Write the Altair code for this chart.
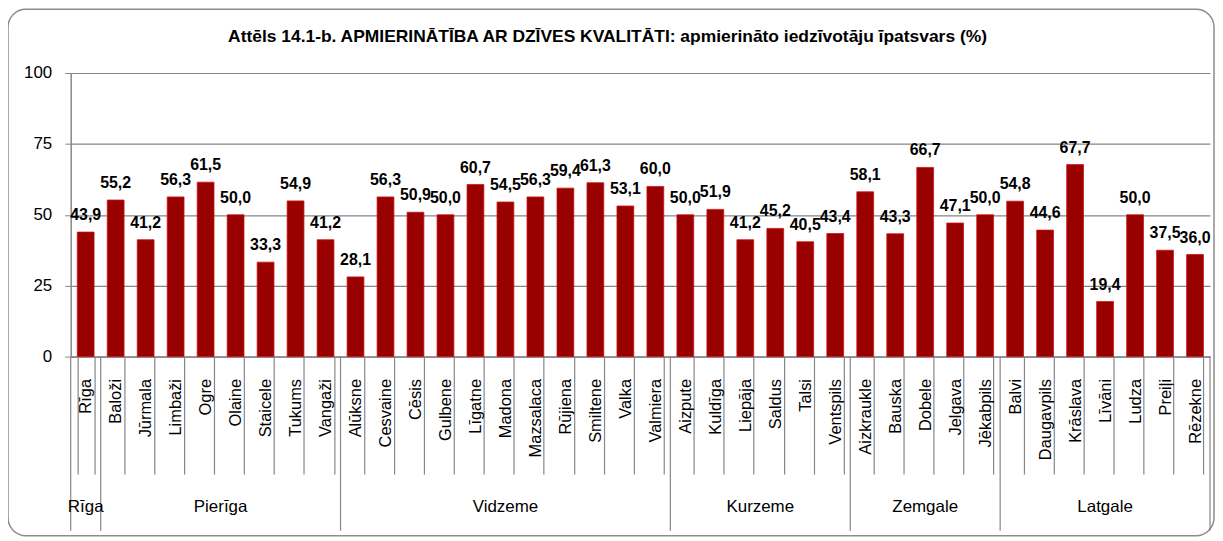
import altair as alt
import pandas as pd

title_text = "Attēls 14.1-b. APMIERINĀTĪBA AR DZĪVES KVALITĀTI: apmierināto iedzīvotāju īpatsvars (%)"

regions = ["Rīga", "Pierīga", "Vidzeme", "Kurzeme", "Zemgale", "Latgale"]
region_sizes = [1, 8, 11, 6, 5, 7]

municipalities = [
    "Rīga",
    "Baloži", "Jūrmala", "Limbaži", "Ogre", "Olaine", "Staicele", "Tukums", "Vangaži",
    "Alūksne", "Cesvaine", "Cēsis", "Gulbene", "Līgatne", "Madona", "Mazsalaca",
    "Rūjiena", "Smiltene", "Valka", "Valmiera",
    "Aizpute", "Kuldīga", "Liepāja", "Saldus", "Talsi", "Ventspils",
    "Aizkraukle", "Bauska", "Dobele", "Jelgava", "Jēkabpils",
    "Balvi", "Daugavpils", "Krāslava", "Līvāni", "Ludza", "Preiļi", "Rēzekne",
]
values = [
    43.9,
    55.2, 41.2, 56.3, 61.5, 50.0, 33.3, 54.9, 41.2,
    28.1, 56.3, 50.9, 50.0, 60.7, 54.5, 56.3, 59.4, 61.3, 53.1, 60.0,
    50.0, 51.9, 41.2, 45.2, 40.5, 43.4,
    58.1, 43.3, 66.7, 47.1, 50.0,
    54.8, 44.6, 67.7, 19.4, 50.0, 37.5, 36.0,
]
y_ticks = [0, 25, 50, 75, 100]

FONT = "Liberation Sans Narrow, Arial Narrow, Liberation Sans, Arial"
W, H = 1145, 285
GRAY = "#868686"

region_of = []
for r, n in zip(regions, region_sizes):
    region_of += [r] * n
df = pd.DataFrame({"mun": municipalities, "val": values, "region": region_of})
df["label"] = [f"{v:.1f}".replace(".", ",") for v in values]

bounds = [0]
for n in region_sizes:
    bounds.append(bounds[-1] + n)
n_all = len(municipalities)
rules_df = pd.DataFrame({"b": bounds})
gtext_df = pd.DataFrame({
    "region": regions,
    "c": [(bounds[i] + bounds[i + 1]) / 2 for i in range(len(regions))],
})

xband = alt.Scale(paddingInner=0.44, paddingOuter=0.22)
xq = alt.Scale(domain=[0, n_all], nice=False, zero=False)

bars = alt.Chart(df).mark_bar(color="#990000", stroke="#d01010", strokeWidth=0.8).encode(
    x=alt.X("mun:N", sort=municipalities, scale=xband,
            axis=alt.Axis(title=None, labelAngle=270, tickBand="extent", tickSize=118,
                          labelPadding=-96, labelFontSize=16.5, labelFont=FONT,
                          labelColor="#000000", domainColor=GRAY, tickColor=GRAY,
                          domainWidth=1.5, tickWidth=1.2)),
    y=alt.Y("val:Q", scale=alt.Scale(domain=[0, 100]),
            axis=alt.Axis(title=None, values=y_ticks, grid=True, gridColor=GRAY,
                          gridWidth=1.2, domainColor=GRAY, tickColor=GRAY, tickSize=6,
                          labelFontSize=17, labelFont=FONT, labelColor="#000000",
                          labelPadding=13, domainWidth=1.5)),
)

labels = alt.Chart(df).mark_text(dy=-9, fontWeight="bold", fontSize=16, font=FONT,
                                 color="#000000", baseline="bottom").encode(
    x=alt.X("mun:N", sort=municipalities, scale=xband, axis=None),
    y=alt.Y("val:Q", scale=alt.Scale(domain=[0, 100]), axis=None),
    text="label:N",
)

group_rules = alt.Chart(rules_df).mark_rule(color=GRAY, strokeWidth=1.2).encode(
    x=alt.X("b:Q", scale=xq, axis=None),
    y=alt.value(H),
    y2=alt.value(H + 175),
)

group_text = alt.Chart(gtext_df).mark_text(fontSize=17, font=FONT, color="#000000").encode(
    x=alt.X("c:Q", scale=xq, axis=None),
    y=alt.value(H + 151),
    text="region:N",
)

border = alt.Chart(pd.DataFrame({"k": [0]})).mark_rect(
    fillOpacity=0, stroke="#8c8c8c", strokeWidth=1.5, cornerRadius=18
).encode(
    x=alt.value(-63), x2=alt.value(W + 4),
    y=alt.value(-64), y2=alt.value(H + 180),
)

chart = alt.layer(border, bars, labels, group_rules, group_text).resolve_scale(
    x="independent", y="independent"
).properties(
    width=W, height=H,
    title=alt.TitleParams(title_text, fontSize=17.5, fontWeight="bold", font=FONT,
                          color="#000000", anchor="middle", dx=-33, offset=-55,
                          baseline="bottom"),
    autosize=alt.AutoSizeParams(type="none"),
    padding={"left": 63, "top": 64, "right": 5, "bottom": 182},
).configure_view(stroke=None)

chart.save("out.html", embed_options={"renderer": "svg", "actions": False})
